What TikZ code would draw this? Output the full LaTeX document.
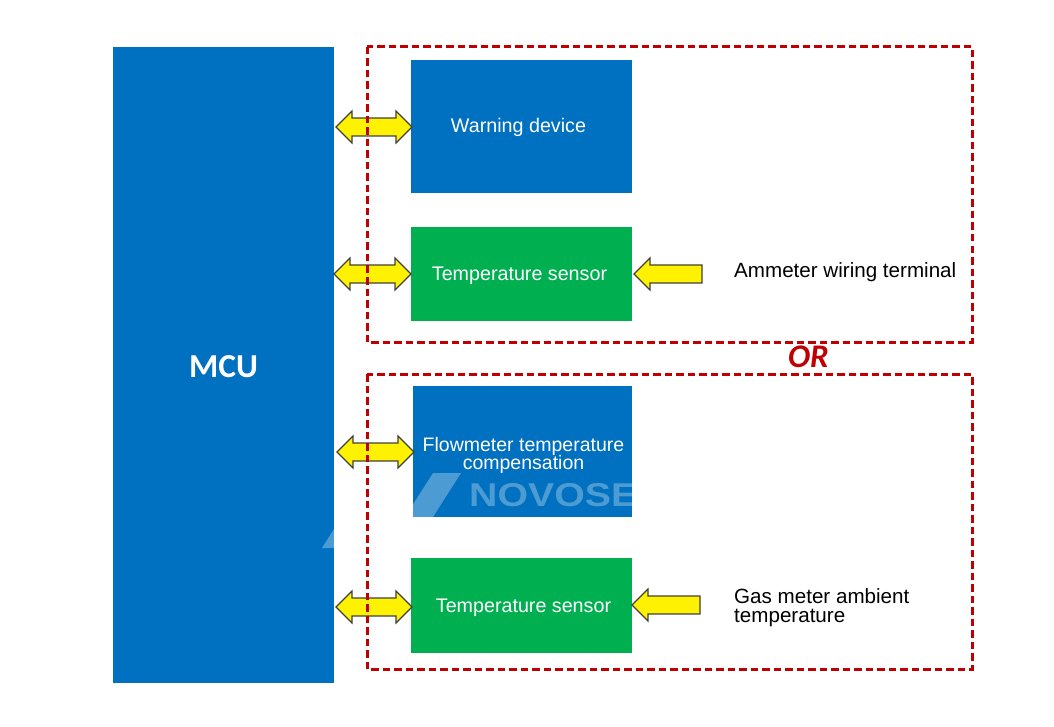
\documentclass[tikz,border=0pt]{standalone}
\usepackage{fontspec}
\setmainfont{Liberation Sans}
\newfontfamily\mcufont{Carlito}
\usetikzlibrary{calc}
\definecolor{boxblue}{HTML}{0070C0}
\definecolor{boxgreen}{HTML}{00B050}
\definecolor{ordred}{HTML}{C00000}
\tikzset{
    module/.style={draw=none, text=white, inner sep=0, align=center, text height=14pt, text depth=0pt, font=\fontsize{19.7}{18.5}\selectfont},
    orgroup/.style={draw=ordred, line width=3pt, dash pattern=on 7.5pt off 4pt},
    note/.style={anchor=west, inner sep=0, align=left, font=\fontsize{20.6}{19}\selectfont},
    arrowbase/.style={draw=black!75, line width=1.2pt, fill=yellow, line join=miter},
    dblarrow/.style={arrowbase, to path={
        (\tikztostart) -- ++(16,-16) -- ++(0,7) -- ($(\tikztotarget)+(-16,-9)$) -- ++(0,-7)
        -- (\tikztotarget) -- ++(-16,16) -- ++(0,-7) -- ($(\tikztostart)+(16,9)$) -- ++(0,7) -- cycle}},
    sglarrow/.style={arrowbase, to path={
        ($(\tikztostart)+(0,-9)$) -- ($(\tikztotarget)+(16,-9)$) -- ++(0,-7)
        -- (\tikztotarget) -- ++(16,16) -- ++(0,-7) -- ($(\tikztostart)+(0,9)$) -- cycle}}
}
\begin{document}
\begin{tikzpicture}[x=1pt, y=-1pt]
    \useasboundingbox (0, 0) rectangle (1054, 727);
    % blocks
    \node[module, fill=boxblue, minimum width=221, minimum height=636, text height=24pt, font=\mcufont\bfseries\fontsize{33.5}{33.5}\selectfont] (mcu) at (223.5, 365) {MCU};
    \node[module, fill=boxblue, minimum width=221, minimum height=133, text height=12pt] (warning) at (521.5, 126.5) {\hspace*{-6pt}Warning device};
    \node[module, fill=boxgreen, minimum width=221, minimum height=94, text height=12pt] (tempa) at (521.5, 274) {\hspace*{-4pt}Temperature sensor};
    \node[module, fill=boxblue, minimum width=219, minimum height=131, text height=, text depth=, font=\fontsize{19.5}{18.5}\selectfont] (flow) at (522.5, 451.5) {\rule{0pt}{22.5pt}\hspace*{2pt}Flowmeter temperature\\\hspace*{2pt}compensation};
    \node[module, fill=boxgreen, minimum width=221, minimum height=95] (tempb) at (521.5, 605.5) {\hspace*{4pt}Temperature sensor};

    % faint mark behind the lower blocks
    \begin{scope}
        \clip (flow.north west) rectangle (flow.south east);
        \fill[white, opacity=0.3] (433, 473) -- (461, 473) -- (433, 517) -- (405, 517) -- cycle;
        \node[anchor=west, inner sep=0, xscale=1.19, transform shape, text=white, opacity=0.3, font=\bfseries\fontsize{33}{33}\selectfont] (markname) at (469, 495.5) {NOVOSE};
    \end{scope}
    \fill[white, opacity=0.3] (334, 529) -- (334, 548) -- (322, 548) -- cycle;

    % free ends of the arrows
    \coordinate (warningin) at (336, 127);
    \coordinate (warningout) at (412, 127);
    \coordinate (tempain) at (334, 274);
    \coordinate (tempaout) at (411, 274);
    \coordinate (flowin) at (337, 452);
    \coordinate (flowout) at (414, 452);
    \coordinate (tempbin) at (336, 607);
    \coordinate (tempbout) at (412, 607);
    \draw[dblarrow] (warningin) to (warningout);
    \draw[dblarrow] (tempain) to (tempaout);
    \draw[dblarrow] (flowin) to (flowout);
    \draw[dblarrow] (tempbin) to (tempbout);

    % dashed groups
    \draw[orgroup] (367, 47) rectangle (972, 342);
    \draw[orgroup] (367, 374) rectangle (972, 669);
    \node[inner sep=0, text=ordred, font=\mcufont\bfseries\itshape\fontsize{33}{33}\selectfont] (orlabel) at (808.5, 357) {OR};

    % outside signals
    \node[note] (ammeter) at (734, 272) {Ammeter wiring terminal};
    \node[note] (gasmeter) at (734, 607.5) {Gas meter ambient\\temperature};
    \coordinate (ammetertail) at (702, 274);
    \coordinate (ammeterhead) at (634, 274);
    \coordinate (gastail) at (700, 605);
    \coordinate (gashead) at (632, 605);
    \draw[sglarrow] (ammetertail) to (ammeterhead);
    \draw[sglarrow] (gastail) to (gashead);
\end{tikzpicture}
\end{document}
